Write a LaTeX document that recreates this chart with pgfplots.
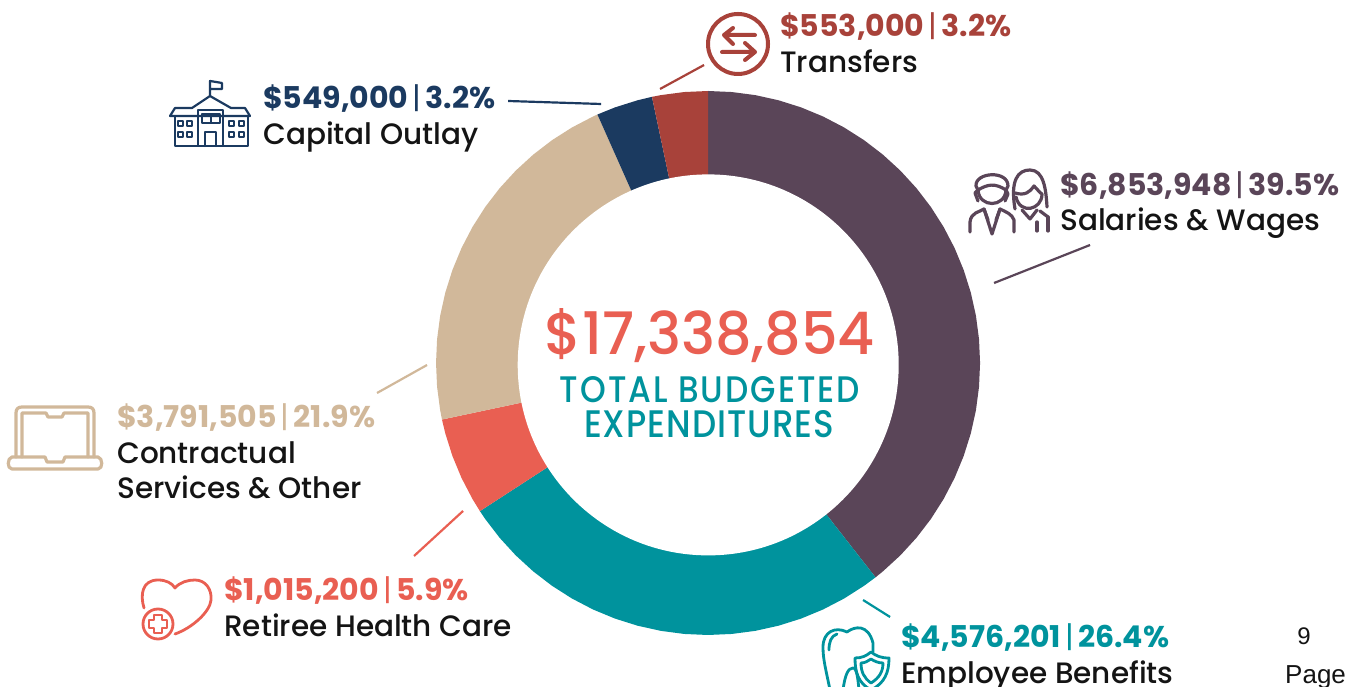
\documentclass[border=0pt]{standalone}
\usepackage{pgfplots}
\pgfplotsset{compat=1.18}
\usepackage{fontspec}
\setmainfont{Poppins}
\newfontfamily\popmed{Poppins Medium}
\newfontfamily\arialf{Liberation Sans}
\definecolor{plum}{HTML}{5A4558}
\definecolor{teal2}{HTML}{00939D}
\definecolor{coral}{HTML}{E95F52}
\definecolor{tan2}{HTML}{D1B89A}
\definecolor{navy}{HTML}{1B3A60}
\definecolor{brick}{HTML}{A8423A}
\definecolor{ink}{HTML}{141414}
\newcommand{\val}[4]{\node[anchor=base west,inner sep=0pt,text=#1,font=\fontsize{30}{30}\selectfont\bfseries] at (#2) {#3\hspace{0.14em}{\mdseries|}\hspace{0.14em}#4};}
\newcommand{\lab}[2]{\node[anchor=base west,inner sep=0pt,text=ink,font=\popmed\fontsize{29.5}{30}\selectfont] at (#1) {#2};}
\begin{document}
\begin{tikzpicture}
\path[use as bounding box] (0,0) rectangle (1351pt,687pt);
\begin{axis}[at={(0,0)},anchor=south west,scale only axis,width=1351pt,height=687pt,
 xmin=-708,xmax=643,ymin=-324,ymax=363,hide axis,clip=false]
% Salaries & Wages 39.5%
\addplot[fill=plum,draw=none,data cs=polar] coordinates {
(90,272)(85,272)(80,272)(75,272)(70,272)(65,272)(60,272)(55,272)(50,272)(45,272)(40,272)(35,272)(30,272)(25,272)(20,272)(15,272)(10,272)(5,272)(0,272)(-5,272)(-10,272)(-15,272)(-20,272)(-25,272)(-30,272)(-35,272)(-40,272)(-45,272)(-50,272)(-52,272)
(-52,170)(-50,170)(-45,170)(-40,170)(-35,170)(-30,170)(-25,170)(-20,170)(-15,170)(-10,170)(-5,170)(0,170)(5,170)(10,170)(15,170)(20,170)(25,170)(30,170)(35,170)(40,170)(45,170)(50,170)(55,170)(60,170)(65,170)(70,170)(75,170)(80,170)(85,170)(90,170)} --cycle;
% Employee Benefits 26.4%
\addplot[fill=teal2,draw=none,data cs=polar] coordinates {
(-52,272)(-55,272)(-60,272)(-65,272)(-70,272)(-75,272)(-80,272)(-85,272)(-90,272)(-95,272)(-100,272)(-105,272)(-110,272)(-115,272)(-120,272)(-125,272)(-130,272)(-135,272)(-140,272)(-145,272)(-147,272)
(-147,170)(-145,170)(-140,170)(-135,170)(-130,170)(-125,170)(-120,170)(-115,170)(-110,170)(-105,170)(-100,170)(-95,170)(-90,170)(-85,170)(-80,170)(-75,170)(-70,170)(-65,170)(-60,170)(-55,170)(-52,170)} --cycle;
% Retiree Health Care 5.9%
\addplot[fill=coral,draw=none,data cs=polar] coordinates {
(-147,272)(-150,272)(-155,272)(-160,272)(-165,272)(-168,272)
(-168,170)(-165,170)(-160,170)(-155,170)(-150,170)(-147,170)} --cycle;
% Contractual Services & Other 21.9%
\addplot[fill=tan2,draw=none,data cs=polar] coordinates {
(-168,272)(-170,272)(-175,272)(-180,272)(-185,272)(-190,272)(-195,272)(-200,272)(-205,272)(-210,272)(-215,272)(-220,272)(-225,272)(-230,272)(-235,272)(-240,272)(-245,272)(-246,272)
(-246,170)(-245,170)(-240,170)(-235,170)(-230,170)(-225,170)(-220,170)(-215,170)(-210,170)(-205,170)(-200,170)(-195,170)(-190,170)(-185,170)(-180,170)(-175,170)(-170,170)(-168,170)} --cycle;
% Capital Outlay 3.2%
\addplot[fill=navy,draw=none,data cs=polar] coordinates {
(-246,272)(-250,272)(-255,272)(-258.1,272)
(-258.1,170)(-255,170)(-250,170)(-246,170)} --cycle;
% Transfers 3.2%
\addplot[fill=brick,draw=none,data cs=polar] coordinates {
(-258.1,272)(-260,272)(-265,272)(-270,272)
(-270,170)(-265,170)(-260,170)(-258.1,170)} --cycle;
% leader lines
\addplot[brick,line width=2.2pt] coordinates {(-48,274)(-4,298)};
\addplot[navy,line width=2.2pt] coordinates {(-200,262)(-107,259)};
\addplot[plum,line width=2.2pt] coordinates {(286,80)(382,118)};
\addplot[tan2,line width=2.2pt] coordinates {(-331,-30)(-281,-2)};
\addplot[coral,line width=2.2pt] coordinates {(-294,-193)(-245,-148)};
\addplot[teal2,line width=2.2pt] coordinates {(155,-237)(182,-254)};
\end{axis}
\begin{scope}[x=1pt,y=-1pt,shift={(0pt,687pt)},line cap=round,line join=round]
% hole of the ring
\fill[white] (708.2,364.9) circle (190.5);
% centre
\node[inner sep=0pt,text=coral] at (710,336) {\resizebox{330pt}{46pt}{\popmed\fontsize{62}{62}\selectfont \$17,338,854}};
\node[inner sep=0pt,text=teal2] at (710,390) {\resizebox{300pt}{26pt}{\popmed\fontsize{33}{33}\selectfont\addfontfeature{LetterSpace=6}TOTAL BUDGETED}};
\node[inner sep=0pt,text=teal2] at (709,424) {\resizebox{250pt}{27pt}{\popmed\fontsize{33}{33}\selectfont\addfontfeature{LetterSpace=3}EXPENDITURES}};
% labels
\val{brick}{780,37}{\$553,000}{3.2\%}
\lab{780,73}{Transfers}
\val{navy}{263,109}{\$549,000}{3.2\%}
\lab{263,145}{Capital Outlay}
\val{plum}{1060,196}{\$6,853,948}{39.5\%}
\lab{1060,231}{Salaries \& Wages}
\val{tan2}{117,428}{\$3,791,505}{21.9\%}
\lab{117,464}{Contractual}
\lab{117,499}{Services \& Other}
\val{coral}{224,601}{\$1,015,200}{5.9\%}
\lab{224,637}{Retiree Health Care}
\val{teal2}{901,648}{\$4,576,201}{26.4\%}
\lab{901,684}{Employee Benefits}
\node[anchor=base,inner sep=0pt,text=ink,font=\arialf\fontsize{24}{24}\selectfont] at (1304,645) {9};
\node[anchor=base west,inner sep=0pt,text=ink,font=\arialf\fontsize{26}{26}\selectfont] at (1285,684) {Page};
% school
\begin{scope}[navy,line width=2.2pt]
\draw (175,116) rectangle (248,146);
\draw (198,110) rectangle (223,146);
\draw (170,116) -- (175,108) -- (192,108) -- (210,96) -- (231,108) -- (245,108) -- (250,116) -- cycle;
\draw (210,96) -- (210,81) -- (222,83) -- (222,89) -- (210,89);
\draw[line width=1.8pt] (202,114) rectangle (220,123) (211,114) -- (211,123);
\draw (205,146) -- (205,132) -- (216,132) -- (216,146);
\draw[line width=1.8pt] (178,121) rectangle (183,126) (187,121) rectangle (192,126) (178,132) rectangle (183,137) (187,132) rectangle (192,137);
\draw[line width=1.8pt] (229,121) rectangle (234,126) (239,121) rectangle (244,126) (229,132) rectangle (234,137) (239,132) rectangle (244,137);
\end{scope}
% transfers
\begin{scope}[brick,line width=4pt]
\draw (738,44) circle (30);
\draw (755,35) -- (724,35) (733,28) -- (724,35) -- (733,44);
\draw (722,52) -- (755,52) (745,43) -- (755,52) -- (745,60);
\end{scope}
% people
\begin{scope}[plum,line width=3.2pt]
\draw (978,190) .. controls (979,208) and (1005,208) .. (1006,190);
\draw (978,190) -- (975,193) -- (978,201) (1006,190) -- (1008,194) -- (1005,201);
\draw (976,186) .. controls (975,172) and (1008,170) .. (1008,186) -- (1006,190) .. controls (995,183) and (988,184) .. (978,190) -- cycle;
\draw (970,232) -- (970,222) .. controls (971,212) and (980,212) .. (984,209) -- (992,234) -- (1000,209) .. controls (1006,212) and (1012,214) .. (1014,220) -- (1014,232);
\draw (984,209) -- (988,220) (1000,209) -- (996,220);
\draw (1015,209) .. controls (1010,180) and (1018,170) .. (1030,170) .. controls (1044,170) and (1046,190) .. (1047,207);
\draw (1015,193) .. controls (1025,196) and (1030,192) .. (1034,186) .. controls (1038,190) and (1040,193) .. (1042,194) .. controls (1042,210) and (1020,215) .. (1016,197);
\draw (1022,210) -- (1030,219) -- (1037,210) (1040,211) -- (1048,217);
\draw (1037,222) -- (1037,231) (1048,217) -- (1048,231);
\end{scope}
% laptop
\begin{scope}[tan2,line width=3.2pt]
\draw (16,457) -- (16,413) .. controls (16,409) and (18,407) .. (22,407) -- (88,407) .. controls (92,407) and (94,409) .. (94,413) -- (94,457);
\draw (22,457) -- (22,413) -- (46,413) -- (48,417) -- (62,417) -- (64,413) -- (88,413) -- (88,457);
\draw (12,457) -- (45,457) -- (47,462) -- (63,462) -- (65,457) -- (98,457) .. controls (103,458) and (103,469) .. (98,469) -- (12,469) .. controls (7,469) and (7,458) .. (12,457) -- cycle;
\end{scope}
% heart
\begin{scope}[coral,line width=2.8pt]
\draw (144,608) .. controls (140,595) and (142,580) .. (158,580) .. controls (166,580) and (172,583) .. (175,588) .. controls (180,582) and (188,580) .. (195,580) .. controls (206,580) and (212,590) .. (211,600) .. controls (210,612) and (192,628) .. (175,634);
\draw (158,624) circle (15);
\draw (154,615) -- (162,615) -- (162,620) -- (167,620) -- (167,628) -- (162,628) -- (162,633) -- (154,633) -- (154,628) -- (149,628) -- (149,620) -- (154,620) -- cycle;
\end{scope}
% tooth
\begin{scope}[teal2,line width=2.8pt]
\draw (830,690) .. controls (826,670) and (823,660) .. (823,647) .. controls (823,632) and (835,626) .. (847,632) .. controls (855,626) and (868,624) .. (873,643) -- (873,652);
\draw (829,650) .. controls (829,642) and (831,636) .. (837,634);
\draw (843,690) .. controls (845,675) and (848,668) .. (853,668) .. controls (857,668) and (858,680) .. (859,690);
\draw (855,658) .. controls (862,658) and (866,656) .. (871,652) .. controls (876,656) and (881,658) .. (889,658) .. controls (889,672) and (885,683) .. (871,690) .. controls (858,683) and (855,672) .. (855,658) -- cycle;
\draw (861,663) .. controls (865,663) and (868,661) .. (871,659) .. controls (874,661) and (878,663) .. (883,663) .. controls (883,672) and (879,678) .. (871,683) .. controls (864,678) and (861,672) .. (861,663) -- cycle;
\end{scope}
\end{scope}
\end{tikzpicture}
\end{document}
